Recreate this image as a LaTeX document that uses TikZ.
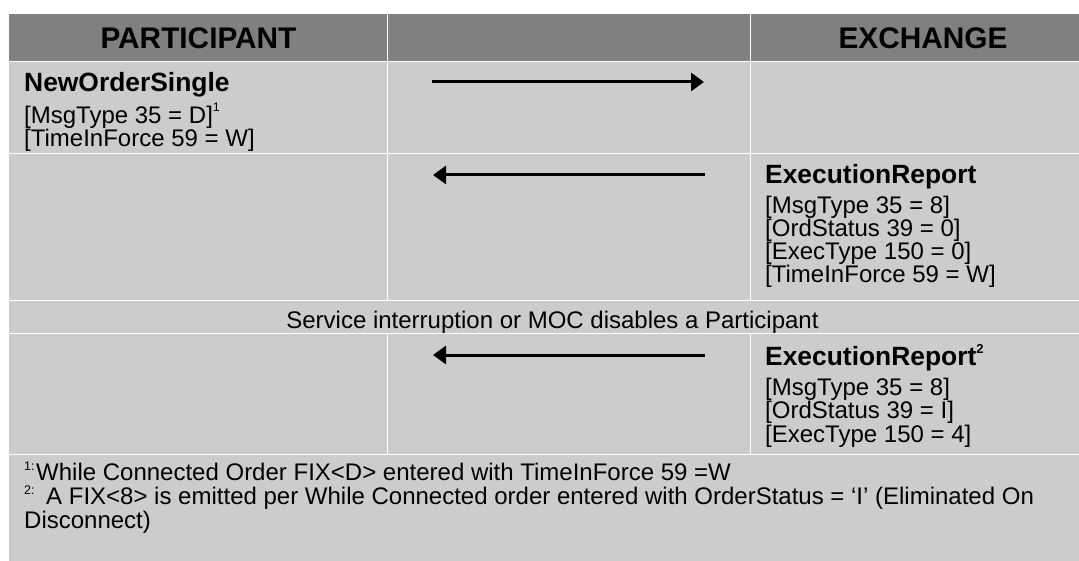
\documentclass[tikz,border=0pt]{standalone}
\usepackage{fontspec}
\setmainfont{Liberation Sans}
\usetikzlibrary{arrows.meta}
\definecolor{hdr}{HTML}{808080}
\definecolor{cell}{HTML}{CCCCCC}
\begin{document}
\begin{tikzpicture}[x=1pt,y=-1pt,
  txt/.style={anchor=base west, inner sep=0pt, font=\fontsize{24}{24}\selectfont},
  ttl/.style={anchor=base west, inner sep=0pt, font=\bfseries\fontsize{26.4}{26.4}\selectfont},
  hd/.style={anchor=base, inner sep=0pt, font=\bfseries\fontsize{29.8}{29.8}\selectfont},
  sup/.style={anchor=base west, inner sep=0pt, font=\fontsize{12.5}{12.5}\selectfont},
  msg/.style={line width=3pt, -{Triangle[length=13pt,width=18pt]}},
  gridline/.style={white, line width=1pt}]
\useasboundingbox (0,0) rectangle (1079,561);
\begin{scope}
\clip (0,0) rectangle (1079,561);
\fill[hdr] (9,14) rectangle (1096,62);
\fill[cell] (9,62) rectangle (1096,561);
\draw[gridline] (9,62) -- (1096,62);
\draw[gridline] (9,154) -- (1096,154);
\draw[gridline] (9,301) -- (1096,301);
\draw[gridline] (9,334) -- (1096,334);
\draw[gridline] (9,454) -- (1096,454);
\draw[gridline] (387,14) -- (387,301);
\draw[gridline] (750,14) -- (750,301);
\draw[gridline] (387,334) -- (387,454);
\draw[gridline] (750,334) -- (750,454);
\end{scope}
% header
\node[hd] (hp) at (198.5,49) {PARTICIPANT};
\node[hd] (he) at (923,49) {EXCHANGE};
% row 1
\node[ttl] (nos) at (24,92) {NewOrderSingle};
\node[txt] (nos1) at (24,124) {[MsgType 35 = D]\raisebox{12pt}{\fontsize{12.5}{12.5}\selectfont 1}};
\node[txt] (nos2) at (24,147) {[TimeInForce 59 = W]};
\coordinate (a1s) at (432,82);
\coordinate (a1e) at (704,82);
\draw[msg] (a1s) -- (a1e);
% row 2
\coordinate (a2s) at (705,175);
\coordinate (a2e) at (433,175);
\draw[msg] (a2s) -- (a2e);
\node[ttl] (er) at (765,184) {ExecutionReport};
\node[txt] (er1) at (765,214) {[MsgType 35 = 8]};
\node[txt] (er2) at (765,237) {[OrdStatus 39 = 0]};
\node[txt] (er3) at (765,260) {[ExecType 150 = 0]};
\node[txt] (er4) at (765,283) {[TimeInForce 59 = W]};
% row 3
\node[anchor=base, inner sep=0pt, font=\fontsize{24}{24}\selectfont] (svc) at (552.5,329) {Service interruption or MOC disables a Participant};
% row 4
\coordinate (a3s) at (705,355);
\coordinate (a3e) at (433,355);
\draw[msg] (a3s) -- (a3e);
\node[ttl] (er5) at (765,365) {ExecutionReport\raisebox{12pt}{\fontsize{13}{13}\selectfont 2}};
\node[txt] (er6) at (765,395) {[MsgType 35 = 8]};
\node[txt] (er7) at (765,418) {[OrdStatus 39 = I]};
\node[txt] (er8) at (765,442) {[ExecType 150 = 4]};
% footnotes
\node[sup] (f1s) at (24,470) {1:};
\node[txt] (f1) at (36,480) {While Connected Order FIX<D> entered with TimeInForce 59 =W};
\node[sup] (f2s) at (24,494) {2:};
\node[txt] (f2) at (46,504) {A FIX<8> is emitted per While Connected order entered with OrderStatus = ‘I’ (Eliminated On};
\node[txt] (f3) at (24,528) {Disconnect)};
\end{tikzpicture}
\end{document}
